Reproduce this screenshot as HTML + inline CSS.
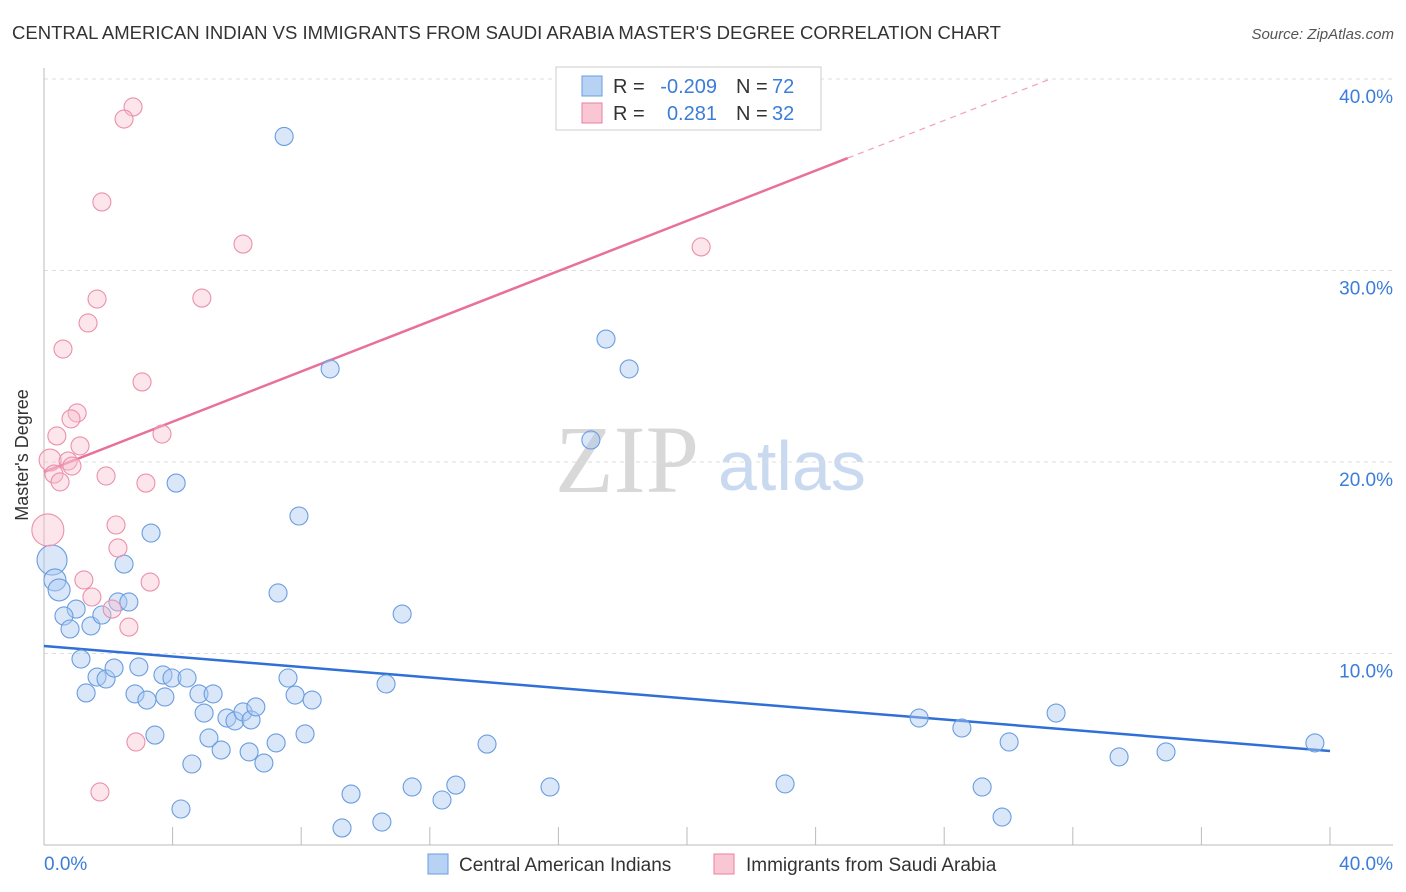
<!DOCTYPE html>
<html><head><meta charset="utf-8"><style>
body{margin:0;background:#fff;font-family:"Liberation Sans",sans-serif;}
svg{display:block}
</style></head><body>
<svg id="chart" width="1406" height="892">
<text x="12" y="39" font-size="18" fill="#333" textLength="989" lengthAdjust="spacingAndGlyphs">CENTRAL AMERICAN INDIAN VS IMMIGRANTS FROM SAUDI ARABIA MASTER'S DEGREE CORRELATION CHART</text>
<text x="1394" y="39" font-size="15" fill="#555" font-style="italic" text-anchor="end">Source: ZipAtlas.com</text>
<g>
<text x="555" y="492" font-family="Liberation Serif" font-size="96" fill="#d8d8d8">ZIP</text>
<text x="718" y="490" font-size="70" fill="#c8d9f0">atlas</text>
</g>
<g id="grid"></g>
<line x1="44" y1="68" x2="44" y2="845" stroke="#bbb"/>
<line x1="44" y1="845" x2="1393" y2="845" stroke="#bbb"/>
<g id="xticks"></g>
<text x="28" y="455" font-size="18" fill="#333" text-anchor="middle" transform="rotate(-90 28 455)">Master's Degree</text>
<text x="44" y="870" font-size="19" fill="#3b7dd8">0.0%</text>
<text x="1393" y="870" font-size="19" fill="#3b7dd8" text-anchor="end">40.0%</text>
<g id="lines"></g>
<g id="points"></g>
<g>
<rect x="556" y="67" width="265" height="63" fill="#fff" stroke="#ccc"/>
<rect x="582" y="76" width="20" height="20" fill="#b8d2f4" stroke="#6a9de0"/>
<rect x="582" y="103" width="20" height="20" fill="#f9c6d4" stroke="#e8809f"/>
<text x="613" y="93" font-size="20" fill="#333">R =</text>
<text x="717" y="93" font-size="20" fill="#3b7dd8" text-anchor="end">-0.209</text>
<text x="736" y="93" font-size="20" fill="#333">N =</text>
<text x="772" y="93" font-size="20" fill="#3b7dd8">72</text>
<text x="613" y="120" font-size="20" fill="#333">R =</text>
<text x="717" y="120" font-size="20" fill="#3b7dd8" text-anchor="end">0.281</text>
<text x="736" y="120" font-size="20" fill="#333">N =</text>
<text x="772" y="120" font-size="20" fill="#3b7dd8">32</text>
</g>
<g>
<rect x="428" y="854" width="20" height="20" fill="#b8d2f4" stroke="#6a9de0"/>
<text x="459" y="871" font-size="19" fill="#333">Central American Indians</text>
<rect x="714" y="854" width="20" height="20" fill="#f9c6d4" stroke="#e8809f"/>
<text x="746" y="871" font-size="19" fill="#333">Immigrants from Saudi Arabia</text>
</g>
</svg>
<script>
const yTicks=[10,20,30,40];
const yTickLabels=["10.0%","20.0%","30.0%","40.0%"];
const xTicks=[4,8,12,16,20,24,28,32,36,40];
const blueX=[7.47,8.90,17.48,18.20,17.01,4.11,7.93,3.33,2.49,7.28,11.14,0.25,0.34,0.47,1.00,0.62,0.81,1.46,1.80,2.30,2.64,1.15,1.65,1.93,2.18,2.95,1.31,2.83,3.20,3.70,3.98,4.45,3.76,4.82,5.26,4.98,5.69,5.94,6.19,6.44,6.59,7.59,7.81,8.34,3.45,5.13,5.51,6.38,7.22,4.60,6.84,8.12,10.64,4.26,9.55,9.27,10.51,11.45,12.38,12.81,13.78,15.74,23.05,27.22,28.55,30.02,31.48,29.18,29.80,33.44,34.90,39.53];
const blueY=[37.0,24.86,26.42,24.86,21.15,18.90,17.18,16.29,14.67,13.16,12.06,14.88,13.84,13.32,12.32,11.96,11.28,11.44,12.01,12.69,12.69,9.71,8.77,8.67,9.24,9.30,7.94,7.89,7.57,8.88,8.72,8.72,7.73,7.89,7.89,6.89,6.63,6.48,6.95,6.53,7.21,8.72,7.83,7.57,5.74,5.59,4.96,4.86,5.33,4.23,4.28,5.80,8.41,1.88,2.66,0.89,1.20,3.03,2.35,3.13,5.27,3.03,3.19,6.63,6.11,5.38,6.89,3.03,1.46,4.60,4.86,5.33];
const blueBig=[11,12,13];
const pinkX=[0.12,2.77,2.49,1.80,6.19,1.65,4.91,1.37,0.59,3.05,1.03,0.84,0.40,3.67,1.12,0.19,0.75,0.87,0.31,0.50,1.93,3.17,20.44,2.24,2.30,1.24,3.30,1.49,2.12,2.64,2.86,1.74];
const pinkY=[16.45,38.54,37.91,33.58,31.38,28.51,28.56,27.26,25.90,24.18,22.56,22.25,21.36,21.46,20.84,20.10,20.05,19.79,19.37,18.96,19.27,18.90,31.23,16.71,15.51,13.84,13.73,12.95,12.32,11.38,5.38,2.77];
const pinkBig=[0,15];
const blueTrend=[10.39,4.91];      // y at x=0 and x=40
const pinkTrend=[19.48,0.6556];    // intercept, slope
const pinkSolidEnd=25.0, pinkDashEnd=31.3;

const NS="http://www.w3.org/2000/svg";
const sx=v=>44+v*32.15, sy=v=>845-v*19.15;
function mk(tag,attrs,parent){const e=document.createElementNS(NS,tag);for(const k in attrs)e.setAttribute(k,attrs[k]);document.getElementById(parent).appendChild(e);return e;}
yTicks.forEach((t,i)=>{
 const l=mk('line',{x1:44,x2:1393,y1:sy(t),y2:sy(t),stroke:'#ddd','stroke-dasharray':'4,4'},'grid');
 
 
 const tx=mk('text',{x:1393,y:sy(t)+24,'font-size':19,fill:'#3b7dd8','text-anchor':'end'},'grid');
 tx.textContent=yTickLabels[i];
 
 
});
xTicks.forEach(t=>{
 const l=mk('line',{x1:sx(t),x2:sx(t),y1:827,y2:845,stroke:'#bbb'},'xticks');
 
 
});
blueX.forEach((x,i)=>{
 const c=mk('circle',{cx:sx(x),cy:sy(blueY[i]),r:blueBig.includes(i)?(i===11?15:11):9,fill:'rgba(170,202,242,0.45)',stroke:'#6a9de0','stroke-width':1.1},'points');
 
 
});
pinkX.forEach((x,i)=>{
 const c=mk('circle',{cx:sx(x),cy:sy(pinkY[i]),r:pinkBig.includes(i)?(i===0?16:11):9,fill:'rgba(248,190,206,0.4)',stroke:'#eb90ab','stroke-width':1.1},'points');
 
 
});
let l=mk('line',{x1:sx(0),y1:sy(blueTrend[0]),x2:sx(40),y2:sy(blueTrend[1]),stroke:'#2f6fd6','stroke-width':2.5},'lines');


l=mk('line',{x1:sx(0),y1:sy(pinkTrend[0]),x2:sx(pinkSolidEnd),y2:sy(pinkTrend[0]+pinkTrend[1]*pinkSolidEnd),stroke:'#e8709a','stroke-width':2.5},'lines');


l=mk('line',{x1:sx(pinkSolidEnd),y1:sy(pinkTrend[0]+pinkTrend[1]*pinkSolidEnd),x2:sx(pinkDashEnd),y2:sy(pinkTrend[0]+pinkTrend[1]*pinkDashEnd),stroke:'#f0a0ba','stroke-width':1.2,'stroke-dasharray':'6,5'},'lines');


</script>
</body></html>
